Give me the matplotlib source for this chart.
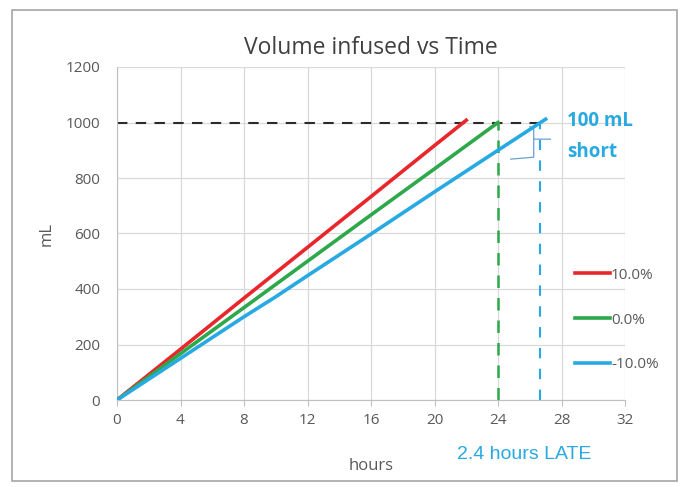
import matplotlib.pyplot as plt
from matplotlib.patches import Rectangle

plt.rcParams['font.family'] = ['Open Sans', 'DejaVu Sans']

# hours / mL for each rate error
red_t = [0, 4, 8, 12, 16, 20, 22]
red_v = [0, 183, 367, 550, 733, 917, 1008]
green_t = [0, 4, 8, 12, 16, 20, 24]
green_v = [0, 167, 333, 500, 667, 833, 1000]
blue_t = [0, 4, 8, 10, 12, 16, 20, 24, 27]
blue_v = [0, 150, 300, 372, 448, 598, 750, 900, 1012]
labels = ["10.0%", "0.0%", "-10.0%"]

target = 1000
green_end = 24
blue_end = 26.67
x_ticks = [0, 4, 8, 12, 16, 20, 24, 28, 32]
y_ticks = [0, 200, 400, 600, 800, 1000, 1200]

RED = "#e8262b"
GREEN = "#2da84a"
BLUE = "#27a9e1"
GREY = "#595959"

fig = plt.figure(figsize=(6.87, 4.87), dpi=100)
fig.patches.append(Rectangle((12 / 687, 6 / 487), 665 / 687, 471 / 487,
                             transform=fig.transFigure, fill=False,
                             edgecolor="#a6a6a6", linewidth=1.2))
ax = fig.add_axes([117 / 687, 87 / 487, 508 / 687, 333 / 487])

ax.plot(red_t, red_v, color=RED, lw=2.6, label=labels[0], zorder=3)
ax.plot(green_t, green_v, color=GREEN, lw=2.6, label=labels[1], zorder=3)
ax.plot(blue_t, blue_v, color=BLUE, lw=2.6, label=labels[2], zorder=3)

ax.plot([0, 27], [target, target], color="#2b2b2b", lw=1.5, ls=(0, (5, 4)), zorder=2)
ax.plot([green_end, green_end], [0, target], color=GREEN, lw=1.8, ls=(0, (5, 4)), zorder=2)
ax.plot([blue_end, blue_end], [0, target], color=BLUE, lw=1.5, ls=(0, (5, 5)), zorder=2)

# brace for the shortfall
ax.plot([26.0, 26.25, 26.25, 27.3], [985, 975, 940, 940], color="#6a9fd4", lw=0.9)
ax.plot([26.25, 26.25, 24.8], [940, 875, 868], color="#6a9fd4", lw=0.9)

ax.set_xlim(0, 32)
ax.set_ylim(0, 1200)
ax.set_xticks(x_ticks)
ax.set_yticks(y_ticks)
ax.grid(True, color="#d9d9d9", lw=0.9)
ax.set_axisbelow(True)
for s in ["top", "right"]:
    ax.spines[s].set_visible(False)
for s in ["left", "bottom"]:
    ax.spines[s].set_color("#bfbfbf")
ax.tick_params(axis="x", colors="#bfbfbf", labelcolor=GREY, labelsize=11, length=4, pad=5)
ax.tick_params(axis="y", length=0, labelcolor=GREY, labelsize=11, pad=12)

ax.set_title("Volume infused vs Time", fontsize=16.5, color="#404040", pad=9)
ax.set_ylabel("mL", fontsize=12, color=GREY, labelpad=8)
ax.set_xlabel("hours", fontsize=12, color=GREY)
ax.xaxis.set_label_coords(0.5, -0.175)

ax.text(28.35, 1005, "100 mL", color=BLUE, fontsize=13.5, fontweight="bold", va="center")
ax.text(28.35, 895, "short", color=BLUE, fontsize=13.5, fontweight="bold", va="center")
ax.text(21.4, -198, "2.4 hours LATE", color=BLUE, fontsize=14, va="center",
        family=["Liberation Sans", "DejaVu Sans"])

leg = ax.legend(loc="center left", bbox_to_anchor=(0.875, 0.24), frameon=False,
                fontsize=11, handlelength=2.3, handletextpad=0.05, labelspacing=1.95,
                labelcolor=GREY)

fig.savefig("out.png", dpi=100)
